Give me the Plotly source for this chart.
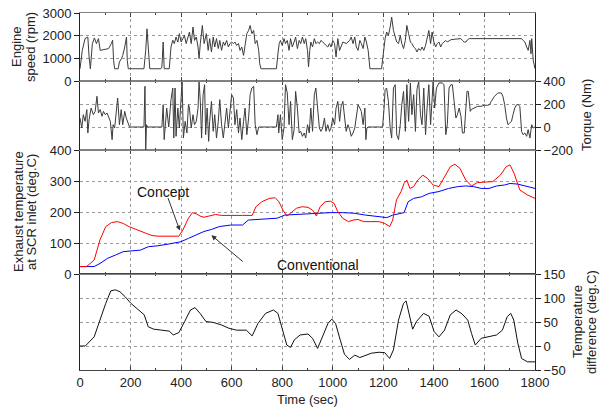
import plotly.graph_objects as go

# ---- data ----
speed_t = [0, 9, 20, 31, 36, 41, 49, 57, 65, 73, 80, 93, 113, 124, 129, 133, 137, 151, 156, 164,
           169, 177, 184, 187, 191, 253, 260, 265, 271, 276, 320, 324, 329, 333, 353, 360, 367, 373, 380, 387,
           393, 400, 407, 413, 420, 427, 433, 440, 447, 453, 460, 467, 471, 476, 484, 491, 500, 507, 513, 520,
           527, 533, 540, 547, 553, 560, 567, 573, 580, 587, 593, 600, 607, 613, 620, 627, 633, 640, 647, 653,
           660, 667, 673, 680, 687, 693, 700, 707, 711, 716, 777, 783, 788, 793, 800, 807, 813, 820, 827, 833,
           840, 847, 853, 860, 867, 873, 880, 887, 893, 900, 904, 909, 913, 920, 927, 933, 940, 947, 953, 960,
           967, 973, 980, 987, 993, 1000, 1007, 1013, 1020, 1027, 1040, 1053, 1067, 1073, 1080, 1087, 1093, 1100, 1107, 1113,
           1120, 1127, 1133, 1140, 1144, 1147, 1193, 1197, 1203, 1207, 1213, 1220, 1227, 1233, 1240, 1247, 1253, 1260, 1267, 1273,
           1280, 1287, 1293, 1300, 1307, 1313, 1320, 1327, 1333, 1340, 1347, 1353, 1360, 1367, 1373, 1380, 1387, 1393, 1400, 1407,
           1413, 1420, 1427, 1433, 1440, 1447, 1453, 1460, 1467, 1480, 1493, 1507, 1513, 1520, 1527, 1533, 1540, 1600, 1650, 1700,
           1747, 1753, 1760, 1767, 1773, 1780, 1784, 1787, 1793, 1800]
speed_rpm = [540, 1350, 1870, 1940, 1060, 540, 1650, 1900, 1650, 1870, 1350, 1380, 1430, 1650, 1800, 900, 540, 540, 840, 985,
             1130, 1500, 1940, 910, 540, 540, 1350, 2300, 1350, 540, 540, 620, 1720, 540, 540, 1500, 1800, 1650, 1940, 1720,
             2090, 1720, 1870, 2010, 1650, 1940, 2160, 1650, 2380, 1790, 1940, 1500, 985, 1650, 2450, 1650, 2090, 1350, 1870, 1280,
             1940, 1500, 1870, 1430, 1790, 1350, 1720, 1570, 1790, 1500, 1650, 1720, 1650, 1720, 1570, 1650, 1350, 1500, 1130, 1570,
             2090, 2230, 2450, 2090, 2230, 1650, 1790, 1350, 760, 540, 540, 1200, 1650, 1790, 1570, 1870, 1650, 1790, 1350, 1870,
             1500, 1720, 1940, 1430, 1790, 1650, 1940, 1650, 1870, 1350, 620, 1350, 1720, 1500, 1870, 1650, 1720, 1650, 1790, 1720,
             1650, 1570, 1500, 1650, 1500, 1790, 1650, 1060, 1870, 1350, 1720, 1650, 1790, 1940, 1650, 1940, 1500, 1350, 1790, 1650,
             1430, 1940, 1720, 1350, 760, 540, 540, 910, 1570, 1870, 2160, 2010, 2380, 2820, 2230, 1940, 1720, 1650, 2010, 1650,
             1430, 1790, 2450, 2090, 1720, 1650, 1500, 1430, 1280, 1430, 1350, 1500, 1350, 1570, 1940, 2230, 1650, 2160, 1720, 1500,
             1650, 1720, 1500, 1650, 1720, 1790, 1720, 1790, 1820, 1840, 1850, 1870, 1790, 1720, 1720, 1820, 1870, 1870, 1875, 1890,
             1870, 1790, 1720, 1500, 1350, 1790, 1200, 1870, 910, 540]

torque_t = [0, 7, 13, 20, 27, 31, 36, 44, 53, 60, 67, 73, 80, 87, 93, 100, 107, 113, 120, 127,
            131, 137, 143, 149, 156, 163, 169, 177, 183, 191, 196, 253, 257, 260, 263, 267, 324, 329, 333, 337,
            343, 351, 360, 367, 371, 376, 380, 387, 393, 400, 404, 409, 416, 423, 429, 433, 440, 447, 453, 460,
            467, 471, 476, 481, 487, 493, 497, 503, 509, 513, 520, 527, 533, 540, 547, 553, 560, 567, 573, 580,
            587, 593, 600, 607, 613, 620, 627, 633, 640, 647, 653, 660, 667, 673, 680, 687, 693, 700, 707, 777,
            783, 786, 793, 800, 807, 813, 820, 827, 833, 840, 847, 853, 860, 867, 873, 880, 887, 893, 900, 907,
            913, 920, 927, 933, 940, 947, 953, 960, 967, 973, 980, 987, 993, 1000, 1007, 1013, 1020, 1027, 1033, 1040,
            1047, 1053, 1060, 1067, 1073, 1080, 1087, 1093, 1100, 1107, 1113, 1120, 1127, 1131, 1135, 1140, 1197, 1203, 1207, 1213,
            1220, 1227, 1233, 1240, 1247, 1253, 1260, 1267, 1273, 1280, 1287, 1293, 1300, 1307, 1313, 1320, 1327, 1333, 1340, 1347,
            1353, 1360, 1367, 1373, 1380, 1387, 1393, 1397, 1403, 1410, 1420, 1433, 1440, 1447, 1453, 1460, 1467, 1473, 1480, 1487,
            1493, 1500, 1507, 1513, 1520, 1527, 1531, 1536, 1544, 1547, 1560, 1573, 1587, 1600, 1613, 1620, 1627, 1640, 1653, 1667,
            1673, 1680, 1687, 1693, 1700, 1707, 1713, 1720, 1727, 1733, 1740, 1747, 1753, 1760, 1767, 1773, 1780, 1787, 1793, 1800]
torque_nm = [78, -9, 107, 49, 151, -52, 64, 165, 107, 136, 267, 122, 151, 93, 136, 107, 122, 78, 49, -110,
             20, -9, 136, 252, 20, 151, 20, 136, 78, 20, 0, 0, 354, -197, 20, 0, 0, 194, -110, 0,
             165, 0, 238, 339, -96, 339, -81, 165, -9, 252, 397, -96, 49, -52, 194, 165, -9, 107, 20, 49,
             165, 397, 223, -96, 281, 368, -67, 165, -125, 49, 223, -38, 107, -96, 49, 238, 20, -96, 20, 165,
             -9, 107, 281, 252, 20, 151, -52, 78, -110, 49, 165, -67, 78, 281, 339, 354, 20, -67, 0, 0,
             107, -52, 107, -110, -9, 368, 296, 20, 223, -110, -23, 310, 165, -52, -38, -81, -52, -96, 20, -52,
             165, -38, 281, 339, 165, -9, -38, -9, 78, -38, 20, -38, -9, 78, 20, 165, 223, 49, 180, 223,
             78, -38, 20, -23, -81, -52, -9, 107, 194, 165, 136, 20, 165, -110, -9, 0, 0, 165, 325, 339,
             223, -9, -96, 339, 368, -67, -110, 20, 194, 310, -38, 368, 49, 383, 107, 281, -38, 325, 397, 107,
             20, 339, -67, 165, 368, 20, 281, 397, 165, 339, 383, 383, 368, -67, 20, 339, 368, 368, 223, 78,
             107, 165, 93, -52, -52, 136, 310, 310, 136, 151, 165, 180, 180, 189, 189, 194, 223, 267, 296, 296,
             267, 194, 78, 20, 35, 49, 107, 165, 194, 194, 180, -38, -67, -52, -81, -23, -96, 20, -9, 0]

concept_t = [0, 26, 56, 79, 102, 125, 148, 171, 193, 216, 239, 262, 285, 308, 391, 407, 429, 445, 460, 475,
             490, 513, 536, 559, 597, 643, 681, 696, 719, 749, 772, 787, 803, 818, 833, 856, 879, 902, 920, 935,
             950, 970, 990, 1005, 1020, 1039, 1062, 1081, 1100, 1122, 1183, 1206, 1225, 1237, 1252, 1270, 1282, 1293, 1305, 1320,
             1336, 1356, 1374, 1397, 1420, 1442, 1465, 1483, 1503, 1526, 1549, 1572, 1602, 1633, 1663, 1686, 1701, 1717, 1740, 1770,
             1800]
concept_temp = [24, 24, 45, 110, 153, 166, 169, 163, 153, 145, 139, 131, 124, 122, 122, 142, 180, 198, 194, 187,
                183, 187, 192, 189, 188, 189, 189, 217, 233, 244, 246, 233, 206, 187, 196, 212, 217, 215, 206, 187,
                217, 233, 235, 228, 201, 180, 169, 174, 176, 169, 169, 163, 153, 174, 239, 266, 292, 303, 276, 282,
                303, 319, 309, 287, 282, 314, 346, 354, 341, 303, 284, 295, 296, 298, 319, 346, 352, 325, 271, 255,
                244]

conv_t = [0, 56, 79, 110, 140, 171, 209, 239, 270, 308, 353, 399, 429, 460, 490, 521, 551, 597, 643, 666,
          704, 749, 780, 810, 856, 902, 947, 993, 1039, 1084, 1130, 1176, 1214, 1237, 1267, 1282, 1298, 1320, 1351, 1381,
          1420, 1458, 1496, 1526, 1557, 1587, 1618, 1648, 1679, 1701, 1732, 1762, 1800]
conv_temp = [24, 24, 34, 51, 61, 72, 75, 77, 88, 91, 97, 104, 115, 126, 137, 144, 153, 158, 158, 174,
             176, 176, 180, 190, 192, 196, 198, 198, 198, 196, 190, 185, 182, 190, 196, 198, 233, 244, 249, 260,
             266, 276, 282, 284, 282, 276, 276, 284, 287, 292, 290, 284, 276]

diff_t = [0, 21, 56, 82, 102, 122, 140, 158, 178, 201, 231, 254, 270, 292, 323, 353, 369, 391, 414, 437,
          455, 475, 498, 528, 559, 589, 620, 658, 681, 704, 734, 765, 783, 798, 818, 833, 848, 871, 902, 920,
          940, 959, 981, 996, 1011, 1026, 1046, 1066, 1087, 1107, 1130, 1153, 1183, 1206, 1225, 1240, 1260, 1280, 1290, 1302,
          1316, 1331, 1359, 1381, 1401, 1420, 1442, 1465, 1488, 1511, 1534, 1549, 1564, 1587, 1618, 1648, 1671, 1690, 1704, 1716,
          1732, 1747, 1770, 1800]
diff_temp = [0, 0, 19, 61, 89, 115, 117, 113, 103, 89, 76, 65, 40, 35, 33, 31, 23, 28, 51, 75,
             80, 68, 51, 49, 44, 37, 33, 33, 21, 47, 68, 75, 68, 40, 2, -3, 13, 23, 25, 16,
             -5, 19, 47, 56, 47, 19, -17, -28, -19, -24, -20, -15, -13, -14, -26, -8, 54, 89, 94, 65,
             35, 51, 68, 62, 30, 19, 33, 65, 75, 67, 54, 26, 2, 16, 19, 23, 33, 61, 68, 54,
             6, -26, -33, -33]

FONT = "Liberation Sans, Arial, sans-serif"
W, H = 603, 410
L, R, T, B = 80, 68, 13, 40
PW, PH = W - L - R, H - T - B


def px(x):
    # pixel column -> paper x
    return (x - L) / PW


def py(y):
    # pixel row -> paper y
    return (H - B - y) / PH


fig = go.Figure()
fig.add_trace(go.Scatter(x=diff_t, y=diff_temp, mode="lines", line=dict(color="#111", width=1),
                         xaxis="x", yaxis="y"))
fig.add_trace(go.Scatter(x=conv_t, y=conv_temp, mode="lines", line=dict(color="#0000ff", width=1),
                         xaxis="x2", yaxis="y2"))
fig.add_trace(go.Scatter(x=concept_t, y=concept_temp, mode="lines", line=dict(color="#ff0000", width=1),
                         xaxis="x2", yaxis="y2"))
fig.add_trace(go.Scatter(x=torque_t, y=torque_nm, mode="lines", line=dict(color="#3c3c3c", width=1),
                         xaxis="x3", yaxis="y3"))
fig.add_trace(go.Scatter(x=speed_t, y=speed_rpm, mode="lines", line=dict(color="#3c3c3c", width=1),
                         xaxis="x4", yaxis="y4"))

# shared look of the time axes
xcommon = dict(range=[0, 1800], dtick=200, ticks="inside", ticklen=4, tickcolor="#444",
               minor=dict(dtick=100, ticks="inside", ticklen=2, tickcolor="#444"),
               showgrid=True, gridcolor="#9a9a9a", griddash="dot", gridwidth=1,
               showline=True, linecolor="#808080", linewidth=1, mirror="ticks",
               zeroline=False, automargin=False)
ycommon = dict(ticks="outside", ticklen=5, tickcolor="#222", showgrid=True, gridcolor="#9a9a9a",
               griddash="dot", gridwidth=1, showline=True, linecolor="#222", linewidth=1,
               mirror=True, zeroline=False, automargin=False)

fig.update_layout(
    width=W, height=H,
    margin=dict(l=L, r=R, t=T, b=B),
    paper_bgcolor="white", plot_bgcolor="white",
    font=dict(family=FONT, size=13, color="#222"),
    showlegend=False,
    xaxis=dict(xcommon, anchor="y", showticklabels=True, linecolor="#444"),
    xaxis2=dict(xcommon, anchor="y2", matches="x", showticklabels=False),
    xaxis3=dict(xcommon, anchor="y3", matches="x", showticklabels=False),
    xaxis4=dict(xcommon, anchor="y4", matches="x", showticklabels=False),
    yaxis=dict(ycommon, domain=[0, py(274)], side="right", range=[-50, 150], dtick=50),
    yaxis2=dict(ycommon, domain=[py(274), py(150)], side="left", range=[0, 400], dtick=100),
    yaxis3=dict(ycommon, domain=[py(150), py(81)], side="right", range=[-200, 400], dtick=200),
    yaxis4=dict(ycommon, domain=[py(81), 1], side="left", range=[0, 3000], dtick=1000),
)

# axis titles, one annotation per text line
titles = [
    ("Engine", 16, 47, -90), ("speed (rpm)", 30, 47, -90),
    ("Exhaust temperature", 18, 212, -90), ("at SCR inlet (deg.C)", 31, 212, -90),
    ("Torque (Nm)", 586, 115, -90),
    ("Temperature", 577, 322, -90), ("difference (deg.C)", 591, 322, -90),
    ("Time (sec)", 307, 399, 0),
]
for txt, cx, cy, ang in titles:
    fig.add_annotation(x=px(cx), y=py(cy), xref="paper", yref="paper", text=txt,
                       textangle=ang, showarrow=False, xanchor="center", yanchor="middle",
                       font=dict(size=13, color="#222"))

# text labels and arrows in the exhaust temperature panel
fig.add_annotation(x=330, y=265, xref="x2", yref="y2", text="Concept", showarrow=False,
                   font=dict(size=14, color="#111"))
fig.add_annotation(x=395, y=140, ax=346, ay=250, xref="x2", yref="y2", axref="x2", ayref="y2",
                   text="", showarrow=True, arrowhead=2, arrowsize=1, arrowwidth=1, arrowcolor="#333")
fig.add_annotation(x=940, y=29, xref="x2", yref="y2", text="Conventional", showarrow=False,
                   font=dict(size=14, color="#111"))
fig.add_annotation(x=520, y=125, ax=650, ay=36, xref="x2", yref="y2", axref="x2", ayref="y2",
                   text="", showarrow=True, arrowhead=2, arrowsize=1, arrowwidth=1, arrowcolor="#333")

# the page keeps the browser's default 8px body margin; drop it so the figure sits at 0,0
fig.write_html("out.html", config={"displayModeBar": False},
               post_script="document.body.style.margin='0';")
